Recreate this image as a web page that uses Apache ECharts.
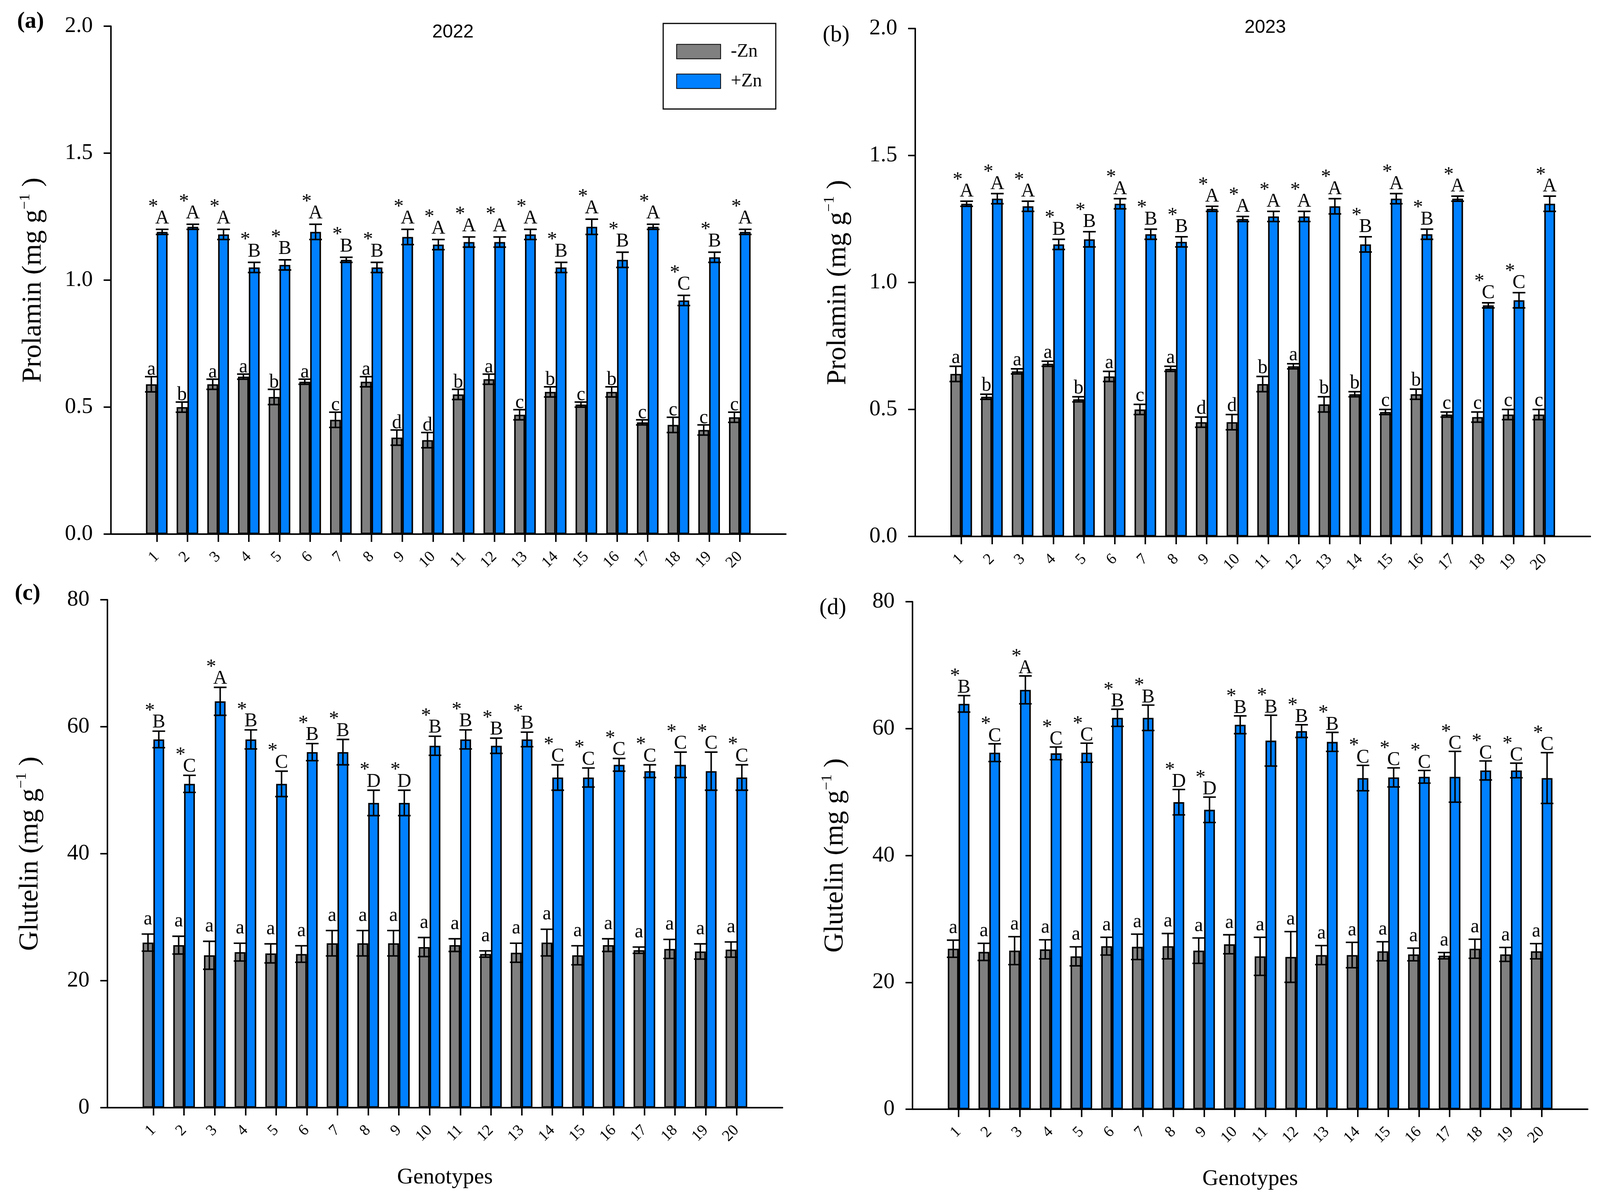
<!DOCTYPE html>
<html>
<head>
<meta charset="utf-8">
<script src="https://cdn.jsdelivr.net/npm/echarts@6/dist/echarts.min.js"></script>
<style>
html,body{margin:0;padding:0;background:#fff;overflow:hidden;}
#chart{position:absolute;left:0;top:0;}
</style>
</head>
<body>
<div id="chart"></div>
<script>
// ---------------- DATA ----------------
const genotypes = ['1','2','3','4','5','6','7','8','9','10','11','12','13','14','15','16','17','18','19','20'];

// (a) Prolamin 2022
const prol22Minus    = [0.59,0.50,0.59,0.62,0.54,0.60,0.45,0.60,0.38,0.37,0.55,0.61,0.47,0.56,0.51,0.56,0.44,0.43,0.41,0.46];
const prol22MinusErr = [0.03,0.02,0.02,0.01,0.03,0.01,0.03,0.02,0.03,0.03,0.02,0.02,0.02,0.02,0.01,0.02,0.01,0.03,0.02,0.02];
const prol22Plus     = [1.19,1.21,1.18,1.05,1.06,1.19,1.08,1.05,1.17,1.14,1.15,1.15,1.18,1.05,1.21,1.08,1.21,0.92,1.09,1.19];
const prol22PlusErr  = [0.01,0.01,0.02,0.02,0.02,0.03,0.01,0.02,0.03,0.02,0.02,0.02,0.02,0.02,0.03,0.03,0.01,0.02,0.02,0.01];
const prol22MinusLet = ['a','b','a','a','b','a','c','a','d','d','b','a','c','b','c','b','c','c','c','c'];
const prol22PlusLet  = ['A','A','A','B','B','A','B','B','A','A','A','A','A','B','A','B','A','C','B','A'];

// (b) Prolamin 2023
const prol23Minus    = [0.64,0.55,0.65,0.68,0.54,0.63,0.50,0.66,0.45,0.45,0.60,0.67,0.52,0.56,0.49,0.56,0.48,0.47,0.48,0.48];
const prol23MinusErr = [0.03,0.01,0.01,0.01,0.01,0.02,0.02,0.01,0.02,0.03,0.03,0.01,0.03,0.01,0.01,0.02,0.01,0.02,0.02,0.02];
const prol23Plus     = [1.31,1.33,1.30,1.15,1.17,1.31,1.19,1.16,1.29,1.25,1.26,1.26,1.30,1.15,1.33,1.19,1.33,0.91,0.93,1.31];
const prol23PlusErr  = [0.01,0.02,0.02,0.02,0.03,0.02,0.02,0.02,0.01,0.01,0.02,0.02,0.03,0.03,0.02,0.02,0.01,0.01,0.03,0.03];
const prol23MinusLet = ['a','b','a','a','b','a','c','a','d','d','b','a','b','b','c','b','c','c','c','c'];
const prol23PlusLet  = ['A','A','A','B','B','A','B','B','A','A','A','A','A','B','A','B','A','C','C','A'];

// (c) Glutelin 2022
const glut22Minus    = [26.0,25.6,24.0,24.5,24.3,24.2,25.9,25.9,25.9,25.3,25.6,24.2,24.4,26.0,24.0,25.6,24.8,25.0,24.6,24.9];
const glut22MinusErr = [1.35,1.4,2.2,1.4,1.5,1.3,2.0,2.0,2.0,1.5,1.0,0.5,1.5,2.1,1.5,1.0,0.5,1.5,1.2,1.2];
const glut22Plus     = [58,51,64,58,51,56,56,48,48,57,58,57,58,52,52,54,53,54,53,52];
const glut22PlusErr  = [1.3,1.35,2.2,1.5,2.0,1.35,2.0,2.0,2.0,1.5,1.5,1.2,1.15,2.0,1.5,1.0,1.0,2.0,3.0,2.0];
const glut22MinusLet = ['a','a','a','a','a','a','a','a','a','a','a','a','a','a','a','a','a','a','a','a'];
const glut22PlusLet  = ['B','C','A','B','C','B','B','D','D','B','B','B','B','C','C','C','C','C','C','C'];

// (d) Glutelin 2023
const glut23Minus    = [25.3,24.8,25.0,25.2,24.1,25.7,25.6,25.7,25.0,26.0,24.1,24.0,24.3,24.3,24.9,24.4,24.2,25.3,24.4,24.9];
const glut23MinusErr = [1.35,1.35,2.2,1.5,1.5,1.4,2.0,2.0,2.0,1.5,3.0,4.0,1.5,2.0,1.5,1.0,0.5,1.5,1.1,1.2];
const glut23Plus     = [63.9,56.2,66.1,56.1,56.2,61.7,61.7,48.4,47.2,60.6,58.1,59.6,57.9,52.2,52.3,52.4,52.4,53.4,53.4,52.2];
const glut23PlusErr  = [1.3,1.4,2.2,1.0,1.5,1.35,2.0,2.0,2.0,1.4,4.0,1.0,1.5,2.0,1.5,1.0,4.0,1.5,1.15,4.0];
const glut23MinusLet = ['a','a','a','a','a','a','a','a','a','a','a','a','a','a','a','a','a','a','a','a'];
const glut23PlusLet  = ['B','C','A','C','C','B','B','D','D','B','B','B','B','C','C','C','C','C','C','C'];

const prolTicks = [0, 2, 0.5];   // min, max, interval
const glutTicks = [0, 80, 20];

// ---------------- STYLE / LAYOUT ----------------
const W = window.innerWidth || 4292;
const H = window.innerHeight || 3079;
const sx = W / 4292, sy = H / 3079, s = Math.min(sx, sy);
const X = function(v){ return v * sx; };
const Y = function(v){ return v * sy; };
const F = function(v){ return v * s; };

const el = document.getElementById('chart');
el.style.width = W + 'px';
el.style.height = H + 'px';

const SERIF = "'Liberation Serif','Times New Roman',serif";
const SANS = "'Liberation Sans',Arial,sans-serif";
const GRAY = '#808080';
const BLUE = '#0080FF';
const BAR_W = X(29);
const LW = F(4);

// gapMinus / gapPlus: distance (px) between error-bar cap and letter baseline
const panels = [
  {grid:{left:297, top:67, width:1811, height:1300}, gapMinus:4, gapPlus:14, minus:prol22Minus, minusErr:prol22MinusErr, plus:prol22Plus, plusErr:prol22PlusErr, minusLet:prol22MinusLet, plusLet:prol22PlusLet, ticks:prolTicks, dec:1, title:'Prolamin', xname:''},
  {grid:{left:2455, top:73, width:1811, height:1300}, gapMinus:8, gapPlus:11, minus:prol23Minus, minusErr:prol23MinusErr, plus:prol23Plus, plusErr:prol23PlusErr, minusLet:prol23MinusLet, plusLet:prol23PlusLet, ticks:prolTicks, dec:1, title:'Prolamin', xname:''},
  {grid:{left:288, top:1535, width:1811, height:1300}, gapMinus:24, gapPlus:8, minus:glut22Minus, minusErr:glut22MinusErr, plus:glut22Plus, plusErr:glut22PlusErr, minusLet:glut22MinusLet, plusLet:glut22PlusLet, ticks:glutTicks, dec:0, title:'Glutelin', xname:'Genotypes'},
  {grid:{left:2448, top:1540, width:1811, height:1299}, gapMinus:17, gapPlus:6, minus:glut23Minus, minusErr:glut23MinusErr, plus:glut23Plus, plusErr:glut23PlusErr, minusLet:glut23MinusLet, plusLet:glut23PlusLet, ticks:glutTicks, dec:0, title:'Glutelin', xname:'Genotypes'}
];

const padded = [''].concat(genotypes, ['']);
const DESC = 11; // approx. descent of 52px serif text

function errRender(offset, letters, withStar, gap) {
  return function (params, api) {
    const xi = api.value(0), v = api.value(1), e = api.value(2);
    const p = api.coord([xi, v]);
    const pt = api.coord([xi, v + e]);
    const pb = api.coord([xi, v - e]);
    const x = p[0] + offset;
    const half = X(17);
    const ls = {stroke:'#000', lineWidth:LW};
    const letterBottom = pt[1] - Y(gap - DESC);
    const children = [
      {type:'line', shape:{x1:x, y1:pt[1], x2:x, y2:pb[1]}, style:ls},
      {type:'line', shape:{x1:x-half, y1:pt[1], x2:x+half, y2:pt[1]}, style:ls},
      {type:'line', shape:{x1:x-half, y1:pb[1], x2:x+half, y2:pb[1]}, style:ls},
      {type:'text', style:{text:letters[params.dataIndex], x:x, y:letterBottom, align:'center', verticalAlign:'bottom', fontSize:F(52), fontFamily:SERIF, fill:'#000'}}
    ];
    if (withStar) {
      children.push({type:'text', style:{text:'*', x:x-X(24), y:letterBottom-Y(29), align:'center', verticalAlign:'bottom', fontSize:F(54), fontFamily:SERIF, fill:'#000'}});
    }
    return {type:'group', children:children};
  };
}

const grids = [], xAxes = [], yAxes = [], series = [];
panels.forEach(function (pn, k) {
  grids.push({containLabel:false, left:X(pn.grid.left), top:Y(pn.grid.top), width:X(pn.grid.width), height:Y(pn.grid.height)});
  xAxes.push({
    type:'category', gridIndex:k, data:padded, boundaryGap:true,
    axisLine:{show:true, lineStyle:{color:'#000', width:LW}},
    axisTick:{show:true, alignWithLabel:true, length:Y(20), lineStyle:{color:'#000', width:LW}, interval:function(i, v){ return v !== ''; }},
    axisLabel:{rotate:45, interval:0, fontSize:F(42), fontFamily:SERIF, color:'#000', margin:Y(52)},
    splitLine:{show:false},
    name:pn.xname, nameLocation:'middle', nameGap:Y(150),
    nameTextStyle:{fontSize:F(60), fontFamily:SERIF, color:'#000'}
  });
  yAxes.push({
    type:'value', gridIndex:k, min:pn.ticks[0], max:pn.ticks[1], interval:pn.ticks[2],
    axisLine:{show:true, lineStyle:{color:'#000', width:LW}},
    axisTick:{show:true, length:X(19), lineStyle:{color:'#000', width:LW}},
    splitLine:{show:false},
    axisLabel:{fontSize:F(60), fontFamily:SERIF, color:'#000', margin:X(48), formatter:function(v){ return v.toFixed(pn.dec); }},
    name: pn.title + ' (mg g{s|\u22121}{t| )}',
    nameLocation:'middle', nameRotate:90, nameGap:X(165),
    nameTextStyle:{fontSize:F(74), fontFamily:SERIF, color:'#000', lineHeight:F(84),
      rich:{ s:{fontSize:F(40), fontFamily:SERIF, color:'#000', lineHeight:F(38), verticalAlign:'top'},
             t:{fontSize:F(74), fontFamily:SERIF, color:'#000', lineHeight:F(84)} }}
  });
  series.push({
    type:'bar', name:'-Zn', xAxisIndex:k, yAxisIndex:k, barWidth:BAR_W, barGap:'0%',
    data:pn.minus.map(function(v,i){ return [i+1, v]; }),
    itemStyle:{color:GRAY, borderColor:'#000', borderWidth:LW}, silent:true
  });
  series.push({
    type:'bar', name:'+Zn', xAxisIndex:k, yAxisIndex:k, barWidth:BAR_W, barGap:'0%',
    data:pn.plus.map(function(v,i){ return [i+1, v]; }),
    itemStyle:{color:BLUE, borderColor:'#000', borderWidth:LW}, silent:true
  });
  series.push({
    type:'custom', xAxisIndex:k, yAxisIndex:k, z:10, silent:true, clip:false,
    data:pn.minus.map(function(v,i){ return [i+1, v, pn.minusErr[i]]; }),
    renderItem:errRender(-BAR_W/2, pn.minusLet, false, pn.gapMinus)
  });
  series.push({
    type:'custom', xAxisIndex:k, yAxisIndex:k, z:10, silent:true, clip:false,
    data:pn.plus.map(function(v,i){ return [i+1, v, pn.plusErr[i]]; }),
    renderItem:errRender(BAR_W/2, pn.plusLet, true, pn.gapPlus)
  });
});

function label(t, x, y, size, fam, weight) {
  return {type:'text', x:X(x), y:Y(y), style:{text:t, fontSize:F(size), fontFamily:fam, fontWeight:weight||'normal', fill:'#000', align:'center', verticalAlign:'middle'}};
}

const option = {
  animation:false,
  backgroundColor:'#fff',
  grid:grids, xAxis:xAxes, yAxis:yAxes, series:series,
  legend:{
    data:['-Zn','+Zn'], orient:'vertical', left:X(1779), top:Y(60),
    padding:[Y(48),X(37),Y(47),X(35)], itemWidth:X(118), itemHeight:Y(37), itemGap:Y(28),
    borderColor:'#000', borderWidth:F(3), icon:'rect',
    textStyle:{fontSize:F(50), fontFamily:SERIF, color:'#000', padding:[0,0,0,X(22)]},
    selectedMode:false
  },
  graphic:[
    label('(a)', 82, 56, 62, SERIF, 'bold'),
    label('(b)', 2243, 90, 62, SERIF),
    label('(c)', 74, 1520, 62, SERIF, 'bold'),
    label('(d)', 2234, 1556, 62, SERIF),
    label('2022', 1215, 83, 50, SANS),
    label('2023', 3394, 71, 50, SANS)
  ]
};

const chart = echarts.init(el, null, {renderer:'canvas', width:W, height:H});
chart.setOption(option);
</script>
</body>
</html>
